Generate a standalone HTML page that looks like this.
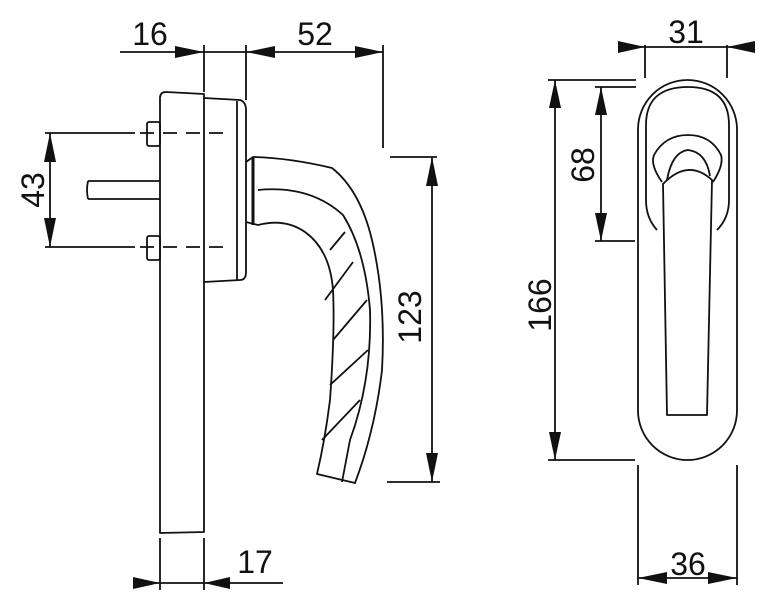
<!DOCTYPE html>
<html><head><meta charset="utf-8"><style>
html,body{margin:0;padding:0;background:#fff;width:781px;height:605px;overflow:hidden}
text{font-family:"Liberation Sans",Arial,sans-serif;font-size:32px;fill:#111}
</style></head><body>
<svg width="781" height="605" viewBox="0 0 781 605" xmlns="http://www.w3.org/2000/svg">
<g stroke="#111" stroke-width="1.8" fill="none" stroke-linejoin="round">
<line x1="120" y1="52" x2="383" y2="52"/>
<line x1="204" y1="45" x2="204" y2="92"/>
<line x1="246" y1="45" x2="246" y2="100"/>
<line x1="383" y1="45" x2="383" y2="148"/>
<path d="M160 533 L160 98 Q160 92 166 92 L204 94 L204 532 Z"/>
<path d="M204 98 L240 100 Q246 102 246 110 L246 272 Q246 280 240 280 L204 282"/>
<line x1="237" y1="101" x2="237" y2="280"/>
<rect x="147" y="122" width="13" height="24" rx="2"/>
<rect x="147" y="236" width="13" height="24" rx="2"/>
<path d="M88 181 L160 181 M88 199 L160 199 M88 181 Q86 190 88 199"/>
<line x1="45" y1="133" x2="135" y2="133"/>
<line x1="45" y1="247" x2="135" y2="247"/>
<line x1="140" y1="133" x2="228" y2="133" stroke-dasharray="14,9"/>
<line x1="140" y1="247" x2="228" y2="247" stroke-dasharray="14,9"/>
<line x1="50" y1="133" x2="50" y2="247"/>
<path d="M246 162 L253 157 Q290 158 332 168 Q360 190 372 240 Q386 300 382 370 Q375 430 355 483 L317 474 Q325 440 330 400 Q335 330 333 290 Q330 250 305 232 Q285 218 258 225 L246 222"/>
<path d="M253 157 L253 225" stroke-width="3"/>
<path d="M258 190 Q310 185 343 215 Q365 250 370 310 Q372 380 350 440 L342 482"/>
<path d="M330 250 L345 232 M325 300 L353 262 M333 340 L367 300 M330 385 L368 350 M322 440 L360 400"/>
<line x1="432" y1="157" x2="432" y2="482"/>
<line x1="390" y1="157" x2="437" y2="157"/>
<line x1="387" y1="482" x2="440" y2="482"/>
<line x1="133" y1="583" x2="283" y2="583"/>
<line x1="160" y1="538" x2="160" y2="590"/>
<line x1="204" y1="538" x2="204" y2="590"/>
<line x1="620" y1="47" x2="755" y2="47"/>
<line x1="645" y1="45" x2="645" y2="78"/>
<line x1="727" y1="45" x2="727" y2="78"/>
<rect x="638" y="80" width="99" height="380" rx="49.5"/>
<path d="M657 230 Q646 218 646 200 L646 125 Q646 87 688 87 Q729 87 729 125 L729 200 Q729 218 717 230"/>
<path d="M662 182 Q650 165 654 155 Q665 135 688 135 Q711 135 721 155 Q724 165 713 182"/>
<path d="M667 180 Q672 152 688 150 Q706 152 710 176"/>
<path d="M663 184 Q688 158 712 180 L707 415 L667 415 Z"/>
<line x1="555" y1="80" x2="555" y2="460"/>
<line x1="548" y1="80" x2="636" y2="80"/>
<line x1="548" y1="460" x2="635" y2="460"/>
<line x1="601" y1="87" x2="601" y2="241"/>
<line x1="595" y1="87" x2="636" y2="87"/>
<line x1="595" y1="241" x2="635" y2="241"/>
<line x1="638" y1="578" x2="737" y2="578"/>
<line x1="638" y1="465" x2="638" y2="585"/>
<line x1="737" y1="465" x2="737" y2="585"/>
</g>
<g fill="#111">
<polygon points="204,52 175,46 175,58"/>
<polygon points="246,52 275,46 275,58"/>
<polygon points="383,52 355,46 355,58"/>
<polygon points="50,133 44,162 56,162"/>
<polygon points="50,247 44,218 56,218"/>
<polygon points="432,157 426,186 438,186"/>
<polygon points="432,482 426,453 438,453"/>
<polygon points="160,583 133,577 133,589"/>
<polygon points="204,583 230,577 230,589"/>
<polygon points="645,47 618,41 618,53"/>
<polygon points="727,47 755,41 755,53"/>
<polygon points="555,80 549,108 561,108"/>
<polygon points="555,460 549,432 561,432"/>
<polygon points="601,87 595,115 607,115"/>
<polygon points="601,241 595,213 607,213"/>
<polygon points="638,578 667,572 667,584"/>
<polygon points="737,578 708,572 708,584"/>
</g>
<text x="150" y="45" text-anchor="middle">16</text>
<text x="315" y="45" text-anchor="middle">52</text>
<text x="686" y="43" text-anchor="middle">31</text>
<text x="255" y="573" text-anchor="middle">17</text>
<text x="688" y="575" text-anchor="middle">36</text>
<text transform="translate(44,190) rotate(-90)" text-anchor="middle">43</text>
<text transform="translate(421,317) rotate(-90)" text-anchor="middle">123</text>
<text transform="translate(551,305) rotate(-90)" text-anchor="middle">166</text>
<text transform="translate(594,165) rotate(-90)" text-anchor="middle">68</text>
</svg>
</body></html>
